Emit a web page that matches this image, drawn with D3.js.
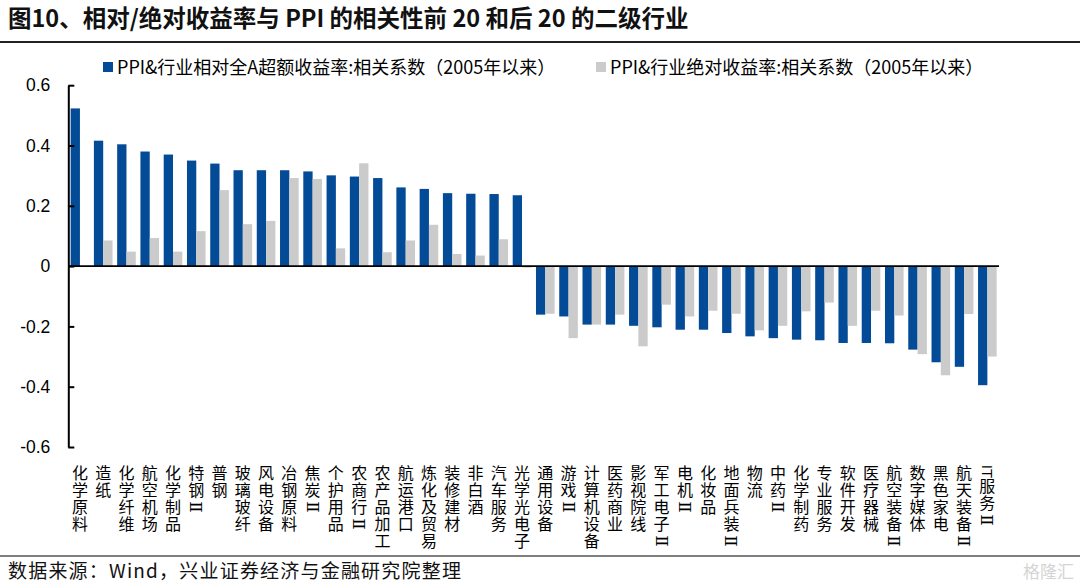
<!DOCTYPE html>
<html>
<head>
<meta charset="utf-8">
<script src="https://cdn.jsdelivr.net/npm/d3@7"></script>
<style>
  body { margin: 0; background: #fff; }
  svg { display: block; font-family: "Noto Sans CJK SC", "Noto Sans", sans-serif; }
</style>
</head>
<body>
<svg id="chart" width="1080" height="584"></svg>
<script>
// 二级行业（前 20 和后 20）
var industries = ['化学原料', '造纸', '化学纤维', '航空机场', '化学制品', '特钢Ⅱ', '普钢', '玻璃玻纤', '风电设备', '冶钢原料',
  '焦炭Ⅱ', '个护用品', '农商行Ⅱ', '农产品加工', '航运港口', '炼化及贸易', '装修建材', '非白酒', '汽车服务', '光学光电子',
  '通用设备', '游戏Ⅱ', '计算机设备', '医药商业', '影视院线', '军工电子Ⅱ', '电机Ⅱ', '化妆品', '地面兵装Ⅱ', '物流',
  '中药Ⅱ', '化学制药', '专业服务', '软件开发', '医疗器械', '航空装备Ⅱ', '数字媒体', '黑色家电', '航天装备Ⅱ', 'IT服务Ⅱ']

// PPI&行业相对全A超额收益率:相关系数
var relCorr = [0.523, 0.416, 0.404, 0.380, 0.370, 0.350, 0.340, 0.318, 0.318, 0.318,
  0.314, 0.301, 0.297, 0.292, 0.261, 0.256, 0.242, 0.240, 0.239, 0.235,
  -0.161, -0.167, -0.194, -0.194, -0.198, -0.203, -0.211, -0.211, -0.222, -0.233,
  -0.239, -0.244, -0.246, -0.255, -0.255, -0.256, -0.277, -0.319, -0.334, -0.395]

// PPI&行业绝对收益率:相关系数
var absCorr = [0.0, 0.085, 0.048, 0.093, 0.048, 0.116, 0.252, 0.139, 0.150, 0.292,
  0.289, 0.059, 0.341, 0.046, 0.085, 0.137, 0.040, 0.035, 0.089, -0.005,
  -0.158, -0.239, -0.194, -0.161, -0.266, -0.128, -0.167, -0.148, -0.158, -0.213,
  -0.198, -0.150, -0.121, -0.198, -0.148, -0.164, -0.292, -0.362, -0.159, -0.300]

var seriesNames = ['PPI&行业相对全A超额收益率:相关系数（2005年以来）', 'PPI&行业绝对收益率:相关系数（2005年以来）']
var yTicks = [-0.6, -0.4, -0.2, 0, 0.2, 0.4, 0.6]

var blue = '#034b96'
var grey = '#cbcbcb'

var svg = d3.select('#chart')

// title
svg.append('text')
  .attr('x', 8).attr('y', 27)
  .attr('font-size', 23.5).attr('font-weight', 'bold')
  .attr('fill', '#111')
  .text('图10、相对/绝对收益率与 PPI 的相关性前 20 和后 20 的二级行业')
svg.append('line')
  .attr('x1', 0).attr('x2', 1080).attr('y1', 42).attr('y2', 42)
  .attr('stroke', '#222').attr('stroke-width', 2)

var x0 = d3.scaleBand()
  .domain(industries)
  .range([68.3, 999])
  .paddingInner(0.2)
  .paddingOuter(0.1)

var x1 = d3.scaleBand()
  .domain([0, 1])
  .range([0, x0.bandwidth()])

var y = d3.scaleLinear()
  .domain([-0.6, 0.6])
  .range([447, 85.2])

var rows = industries.map((name, i) => ({ name: name, vals: [relCorr[i], absCorr[i]] }))

var groups = svg.append('g').selectAll('g')
  .data(rows)
  .enter().append('g')
  .attr('transform', d => 'translate(' + x0(d.name) + ',0)')

groups.selectAll('rect')
  .data(d => d.vals.map((v, k) => ({ k: k, v: v })))
  .enter().append('rect')
  .attr('x', d => x1(d.k))
  .attr('width', x1.bandwidth())
  .attr('y', d => y(Math.max(0, d.v)))
  .attr('height', d => Math.abs(y(d.v) - y(0)))
  .attr('fill', d => d.k === 0 ? blue : grey)

// y axis
var yAxis = d3.axisLeft(y)
  .tickValues(yTicks)
  .tickSizeInner(-6)
  .tickSizeOuter(0)
  .tickPadding(18)
  .tickFormat(d => d === 0 ? '0' : String(+d.toFixed(1)))

var ya = svg.append('g')
  .attr('transform', 'translate(68.3,0)')
  .call(yAxis)
ya.select('.domain').attr('stroke', '#000').attr('stroke-width', 2)
ya.selectAll('.tick line').attr('stroke', '#000').attr('stroke-width', 2)
ya.selectAll('.tick text')
  .attr('font-size', 17.5)
  .attr('fill', '#000')
  .attr('font-family', '"Liberation Sans", Arial, sans-serif')

// zero line
svg.append('line')
  .attr('x1', 68.3).attr('x2', 999)
  .attr('y1', y(0)).attr('y2', y(0))
  .attr('stroke', '#000').attr('stroke-width', 1.8)

// vertical category labels, one character per line; Ⅱ and IT turned sideways
var lab = svg.append('g').attr('fill', '#000').attr('font-size', 16)
industries.forEach(function (name) {
  var cx = x0(name) + x0.bandwidth() / 2
  var tokens = name.startsWith('IT') ? ['IT'].concat(name.slice(2).split('')) : name.split('')
  var cy = 465
  var txt = lab.append('text').attr('text-anchor', 'middle')
  tokens.forEach(function (t) {
    if (t === 'Ⅱ' || t === 'IT') {
      var h = t === 'IT' ? 11 : 14
      lab.append('text')
        .attr('transform', 'translate(' + cx + ',' + (cy + h / 2 + 1) + ') rotate(90)')
        .attr('text-anchor', 'middle')
        .attr('dominant-baseline', 'central')
        .attr('font-family', t === 'IT' ? '"Liberation Sans", Arial, sans-serif' : '"DejaVu Serif", serif')
        .attr('font-size', t === 'IT' ? 15 : 17)
        .text(t)
      cy += h + 2
    } else {
      txt.append('tspan')
        .attr('x', cx).attr('y', cy + 14)
        .text(t)
      cy += 17
    }
  })
})

// legend
var legend = svg.append('g').attr('font-size', 18).attr('fill', '#000')
var legX = [103, 596]
seriesNames.forEach(function (s, i) {
  legend.append('rect')
    .attr('x', legX[i]).attr('y', 62)
    .attr('width', 10).attr('height', 10)
    .attr('fill', i === 0 ? blue : grey)
  legend.append('text')
    .attr('x', legX[i] + 14).attr('y', 74)
    .text(s)
})

// source
svg.append('line')
  .attr('x1', 0).attr('x2', 1080).attr('y1', 556).attr('y2', 556)
  .attr('stroke', '#555').attr('stroke-width', 1.5)
svg.append('text')
  .attr('x', 8).attr('y', 578)
  .attr('font-size', 19).attr('letter-spacing', 1.2).attr('fill', '#111')
  .text('数据来源：Wind，兴业证券经济与金融研究院整理')
svg.append('text')
  .attr('x', 1074).attr('y', 578)
  .attr('text-anchor', 'end')
  .attr('font-size', 17).attr('fill', '#d4d4d4')
  .text('格隆汇')
</script>
</body>
</html>
